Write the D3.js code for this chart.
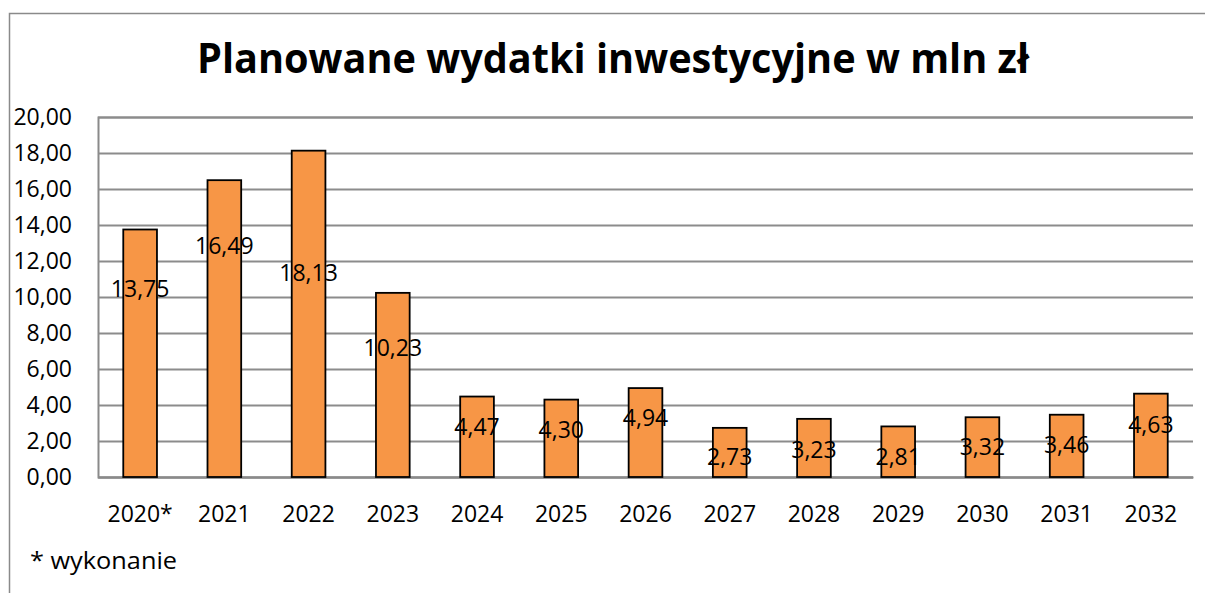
<!DOCTYPE html>
<html lang="pl">
<head>
<meta charset="utf-8">
<script src="https://cdn.jsdelivr.net/npm/d3@7/dist/d3.min.js"></script>
<style>
  html, body { margin: 0; padding: 0; background: #fff; }
  svg { display: block; font-family: "Open Sans", "Noto Sans", sans-serif; }
</style>
</head>
<body>
<svg id="chart" width="1205" height="593"></svg>
<script>
// Planned investment spending, million PLN
const years = ["2020*", "2021", "2022", "2023", "2024", "2025", "2026",
               "2027", "2028", "2029", "2030", "2031", "2032"];
const values = [13.75, 16.49, 18.13, 10.23, 4.47, 4.30, 4.94,
                2.73, 3.23, 2.81, 3.32, 3.46, 4.63];
const yTicks = [0, 2, 4, 6, 8, 10, 12, 14, 16, 18, 20];

// how far below each bar's top its value label sits (px)
const labelDrop = [59, 66, 122, 55, 30, 30, 30, 29, 31, 30, 29, 30, 31];

const fmt = v => d3.format(".2f")(v).replace(".", ",");
const FS = 23;

const svg = d3.select("#chart");
const plot = { left: 98, right: 1193, top: 117, bottom: 477 };

// outer frame (only left and top edges fall inside the view)
svg.append("path")
  .attr("d", "M9.5,593 V13.5 H1205")
  .attr("fill", "none")
  .attr("stroke", "#8a8a8a")
  .attr("stroke-width", 1.5);

// title
svg.append("text")
  .attr("x", 613)
  .attr("y", 73)
  .attr("text-anchor", "middle")
  .attr("font-weight", 700)
  .attr("font-size", 42)
  .attr("fill", "#000")
  .attr("textLength", 832)
  .attr("lengthAdjust", "spacingAndGlyphs")
  .text("Planowane wydatki inwestycyjne w mln zł");

const x = d3.scaleBand().domain(years).range([plot.left, plot.right]).padding(0);
const y = d3.scaleLinear().domain([0, 20]).range([plot.bottom, plot.top]);
const barW = x.step() / 2.5;

// gridlines + value axis
const yAxis = d3.axisLeft(y)
  .tickValues(yTicks)
  .tickSize(-(plot.right - plot.left))
  .tickPadding(26)
  .tickFormat(fmt);
const gy = svg.append("g")
  .attr("transform", `translate(${plot.left},0)`)
  .call(yAxis);
gy.select(".domain").attr("stroke", "#8a8a8a").attr("stroke-width", 2);
gy.selectAll(".tick line").attr("stroke", "#8c8c8c").attr("stroke-width", 2);
gy.selectAll(".tick text")
  .attr("font-size", FS)
  .attr("fill", "#000")
  .attr("font-family", "\"Open Sans\", sans-serif");

// category axis labels
const xAxis = d3.axisBottom(x).tickSize(0).tickPadding(29);
const gx = svg.append("g")
  .attr("transform", `translate(0,${plot.bottom})`)
  .call(xAxis);
gx.select(".domain").attr("stroke", "#8a8a8a").attr("stroke-width", 2);
gx.selectAll(".tick text")
  .attr("font-size", FS)
  .attr("fill", "#000")
  .attr("font-family", "\"Open Sans\", sans-serif");

// bars
svg.append("g")
  .selectAll("rect")
  .data(values)
  .join("rect")
  .attr("x", (d, i) => x(years[i]) + (x.step() - barW) / 2)
  .attr("y", d => y(d))
  .attr("width", barW)
  .attr("height", d => y(0) - y(d))
  .attr("fill", "#F79646")
  .attr("stroke", "#000")
  .attr("stroke-width", 1.8);

// value labels
svg.append("g")
  .selectAll("text")
  .data(values)
  .join("text")
  .attr("x", (d, i) => x(years[i]) + x.step() / 2)
  .attr("y", (d, i) => y(d) + labelDrop[i])
  .attr("dy", "0.36em")
  .attr("text-anchor", "middle")
  .attr("font-size", FS)
  .attr("fill", "#000")
  .text(d => fmt(d));

// footnote
svg.append("text")
  .attr("x", 30)
  .attr("y", 569)
  .attr("font-size", FS + 1)
  .attr("fill", "#000")
  .attr("textLength", 147)
  .attr("lengthAdjust", "spacingAndGlyphs")
  .text("* wykonanie");
</script>
</body>
</html>
